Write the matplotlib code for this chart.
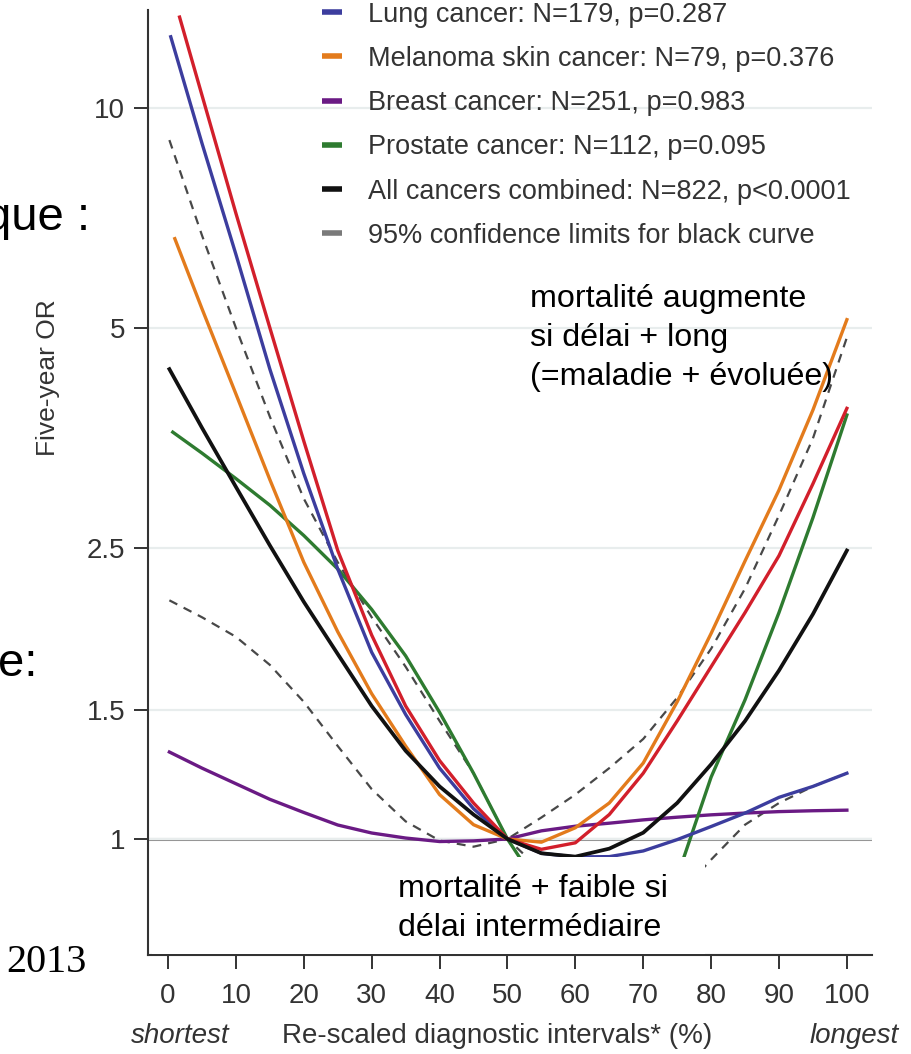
import matplotlib.pyplot as plt
from matplotlib.lines import Line2D
from matplotlib.patches import Rectangle

plt.rcParams['font.family'] = ['Liberation Sans', 'DejaVu Sans']

pct = [0, 5, 10, 15, 20, 25, 30, 35, 40, 45, 50, 55, 60, 65, 70, 75, 80, 85, 90, 95, 100]

# the curves don't all start exactly at 0 on the left
colorectal_start = 1.7
lung_start       = 0.4
melanoma_start   = 1.0
breast_start     = 0.2
prostate_start   = 0.7
all_start        = 0.2
ci_start         = 0.2

# five-year odds ratios (log axis), reference = 50%
colorectal_or = [13.3, 10.4, 7.17, 5.00, 3.50, 2.48, 1.90, 1.52, 1.28, 1.12, 1.00,
                 0.968, 0.988, 1.08, 1.23, 1.45, 1.72, 2.04, 2.44, 3.06, 3.88]
lung_or       = [12.5, 8.94, 6.30, 4.39, 3.16, 2.34, 1.80, 1.48, 1.25, 1.10, 1.00,
                 0.956, 0.945, 0.946, 0.963, 0.998, 1.04, 1.085, 1.14, 1.18, 1.23]
melanoma_or   = [6.62, 5.31, 4.06, 3.10, 2.39, 1.92, 1.58, 1.34, 1.15, 1.046, 1.00,
                 0.99, 1.036, 1.12, 1.27, 1.54, 1.91, 2.40, 3.00, 3.86, 5.13]
breast_or     = [1.315, 1.25, 1.19, 1.133, 1.087, 1.045, 1.019, 1.003, 0.992, 0.994, 1.00,
                 1.026, 1.041, 1.051, 1.062, 1.071, 1.079, 1.085, 1.09, 1.093, 1.095]
prostate_or   = [3.60, 3.37, 3.11, 2.86, 2.60, 2.34, 2.06, 1.78, 1.49, 1.23, 1.00,
                 0.85, 0.77, 0.75, 0.78, 0.887, 1.215, 1.55, 2.04, 2.75, 3.80]
all_or        = [4.39, 3.65, 3.03, 2.52, 2.11, 1.79, 1.52, 1.32, 1.18, 1.08, 1.00,
                 0.956, 0.946, 0.970, 1.02, 1.12, 1.265, 1.45, 1.70, 2.03, 2.48]
ci_upper      = [9.03, 6.69, 5.00, 3.78, 2.92, 2.39, 2.01, 1.72, 1.45, 1.23, 1.00,
                 1.07, 1.15, 1.25, 1.37, 1.56, 1.82, 2.20, 2.77, 3.53, 4.85]
ci_lower      = [2.12, 2.01, 1.89, 1.73, 1.54, 1.34, 1.17, 1.057, 0.995, 0.976, 1.00,
                 0.905, 0.82, 0.78, 0.79, 0.835, 0.937, 1.046, 1.12, 1.18, 1.23]

legend_labels = ['Lung cancer: N=179, p=0.287',
                 'Melanoma skin cancer: N=79, p=0.376',
                 'Breast cancer: N=251, p=0.983',
                 'Prostate cancer: N=112, p=0.095',
                 'All cancers combined: N=822, p<0.0001',
                 '95% confidence limits for black curve']

yticks      = [1, 1.5, 2.5, 5, 10]
ytick_text  = ['1', '1.5', '2.5', '5', '10']
xticks      = [0, 10, 20, 30, 40, 50, 60, 70, 80, 90, 100]

c_red    = '#d21f2b'
c_blue   = '#3c3d9e'
c_orange = '#e37b1c'
c_purple = '#6a1a84'
c_green  = '#2e7b30'
c_black  = '#111111'
c_ci     = '#484848'
c_text   = '#333333'

W, H = 912, 1054
def fx(px):
    return px / W
def fy(py):
    return 1 - py / H

fig = plt.figure(figsize=(W / 100, H / 100), dpi=100)
ax = fig.add_axes([fx(148), fy(955), (872 - 148) / W, (955 - 10) / H])
ax.set_yscale('log')
ax.set_xlim(-2.95, 103.7)
ax.set_ylim(0.694, 13.6)

ax.grid(True, axis='y', color='#e8eded', lw=1.6, zorder=0)
ax.axhline(1, color='#8c8c8c', lw=2.2, zorder=1)

def xs(start):
    return [start] + pct[1:]

dash = (0, (4, 3.2))
ax.plot(xs(ci_start), ci_upper, color=c_ci, lw=1.6, ls=dash, zorder=2)
ax.plot(xs(ci_start), ci_lower, color=c_ci, lw=1.6, ls=dash, zorder=2)
ax.plot(xs(breast_start), breast_or, color=c_purple, lw=2.4, zorder=2)
ax.plot(xs(prostate_start), prostate_or, color=c_green, lw=2.4, zorder=2)
ax.plot(xs(melanoma_start), melanoma_or, color=c_orange, lw=2.4, zorder=2)
ax.plot(xs(lung_start), lung_or, color=c_blue, lw=2.4, zorder=2)
ax.plot(xs(colorectal_start), colorectal_or, color=c_red, lw=2.4, zorder=2)
ax.plot(xs(all_start), all_or, color=c_black, lw=2.7, zorder=2)

ax.set_yticks(yticks)
ax.set_yticklabels(ytick_text)
ax.yaxis.set_minor_locator(plt.NullLocator())
ax.set_xticks(xticks)
ax.tick_params(axis='both', labelsize=20, colors=c_text, width=1.4)
ax.tick_params(axis='y', length=10, pad=6.5)
ax.tick_params(axis='x', length=10, pad=10)
for side in ['top', 'right']:
    ax.spines[side].set_visible(False)
for side in ['left', 'bottom']:
    ax.spines[side].set_color(c_text)
    ax.spines[side].set_linewidth(1.5)

handles = [Line2D([], [], color=c, lw=4, solid_capstyle='butt')
           for c in [c_blue, c_orange, c_purple, c_green, c_black, '#7a7a7a']]
fig.legend(handles, legend_labels, loc='upper left', bbox_to_anchor=(fx(322), fy(1.5)),
           frameon=False, fontsize=19.5, handlelength=0.75, handletextpad=0.95,
           labelspacing=0.675, borderpad=0, borderaxespad=0, labelcolor=c_text)

# axis titles
fig.text(fx(48), fy(378), 'Five-year OR', rotation=90, ha='center', va='center',
         fontsize=19, color=c_text)
fig.text(fx(497), fy(1036), 'Re-scaled diagnostic intervals* (%)', ha='center', va='center',
         fontsize=20, color=c_text)
fig.text(fx(180), fy(1036), 'shortest', ha='center', va='center', fontsize=20,
         style='italic', color=c_text)
fig.text(fx(854), fy(1036), 'longest', ha='center', va='center', fontsize=20,
         style='italic', color=c_text)

# white cover box pasted over the lower part of the plot, with the note on it
fig.patches.append(Rectangle((fx(152), fy(954)), (705 - 152) / W, (954 - 857) / H,
                             transform=fig.transFigure, facecolor='white',
                             edgecolor='none', zorder=5))
fig.text(fx(398), fy(874), 'mortalité + faible si\ndélai intermédiaire', ha='left', va='top',
         fontsize=23.2, linespacing=1.39, color='black', zorder=6)
fig.text(fx(530), fy(284), 'mortalité augmente\nsi délai + long\n(=maladie + évoluée)',
         ha='left', va='top', fontsize=23.2, linespacing=1.39, color='black', zorder=6)

# bits of the slide around the figure
fig.text(fx(90), fy(230), 'que :', ha='right', va='baseline', fontsize=34, color='black')
fig.text(fx(38), fy(676), 'e:', ha='right', va='baseline', fontsize=34, color='black')
fig.text(fx(6), fy(962), '2013', ha='left', va='center', fontsize=29, color='black',
         family='Liberation Serif')

fig.savefig('out.png', dpi=100)
